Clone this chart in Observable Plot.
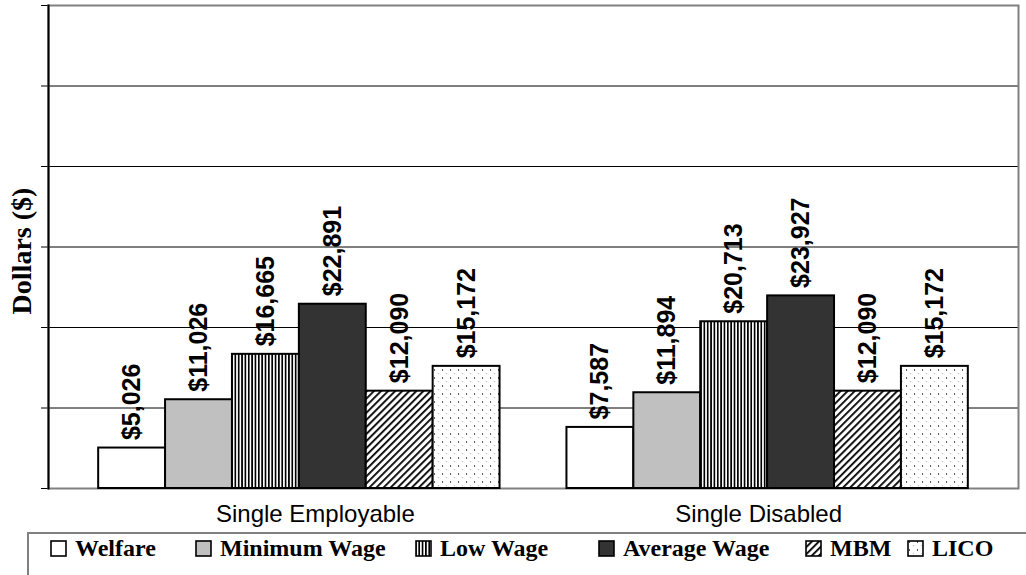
<!DOCTYPE html>
<html>
<head>
<meta charset="utf-8">
<script src="https://cdn.jsdelivr.net/npm/d3@7"></script>
<script src="https://cdn.jsdelivr.net/npm/@observablehq/plot@0.6"></script>
<style>
  html, body { margin: 0; padding: 0; background: #fff; }
  body { width: 1026px; height: 575px; overflow: hidden; position: relative; }
  #chart { position: absolute; left: 0; top: 0; }
  #legend { position: absolute; left: 27px; top: 532px; width: 1020px; height: 70px;
            border: 2px solid #808080; box-sizing: border-box; }
  .item { position: absolute; top: 2px; height: 24px; display: flex; align-items: center;
          font-family: "Liberation Serif", "Times New Roman", serif; font-weight: bold;
          font-size: 24px; line-height: 24px; color: #000; white-space: nowrap; }
  .item svg { margin-right: 8px; }
</style>
</head>
<body>
<svg width="0" height="0" style="position:absolute">
  <defs>
    <pattern id="pVert" patternUnits="userSpaceOnUse" width="3.35" height="10">
      <rect width="3.35" height="10" fill="#fff"/>
      <rect width="1.7" height="10" fill="#000"/>
    </pattern>
    <pattern id="pDiag" patternUnits="userSpaceOnUse" width="5" height="10" patternTransform="rotate(45)">
      <rect width="5" height="10" fill="#fff"/>
      <rect width="1.8" height="10" fill="#000"/>
    </pattern>
    <pattern id="pDots" patternUnits="userSpaceOnUse" width="8" height="8">
      <rect width="8" height="8" fill="#fff"/>
      <rect x="2" y="1" width="1" height="2" fill="#555"/>
      <rect x="6" y="5" width="1" height="1" fill="#bbb"/>
    </pattern>
  </defs>
</svg>
<div id="chart"></div>
<div id="legend"></div>
<script>
// ---- data ----
const groups = ["Single Employable", "Single Disabled"];
const series = ["Welfare", "Minimum Wage", "Low Wage", "Average Wage", "MBM", "LICO"];
const employableValues = [5026, 11026, 16665, 22891, 12090, 15172];
const disabledValues = [7587, 11894, 20713, 23927, 12090, 15172];
const yTicks = [0, 10000, 20000, 30000, 40000, 50000, 60000];
const yLabel = "Dollars ($)";

// ---- styles ----
const seriesFills = ["#ffffff", "#c0c0c0", "url(#pVert)", "#333333", "url(#pDiag)", "url(#pDots)"];

// slot layout: each group takes series.length slots plus one empty slot between groups
const slotsPerGroup = series.length + 1;
const data = [];
groups.forEach((g, gi) => {
  const vals = gi === 0 ? employableValues : disabledValues;
  series.forEach((s, si) => data.push({group: g, series: s, value: vals[si], slot: gi * slotsPerGroup + si}));
});
const groupRows = groups.map((g, gi) => ({group: g, center: gi * slotsPerGroup + series.length / 2}));
const nSlots = groups.length * slotsPerGroup - 1;

const fmt = d3.format("$,");
const sans = "Liberation Sans, Arial, sans-serif";

const chart = Plot.plot({
  width: 1026,
  height: 533,
  marginLeft: 48,
  marginRight: 8,
  marginTop: 5,
  marginBottom: 45,
  style: {background: "transparent", overflow: "visible"},
  x: {domain: [-0.75, nSlots + 0.75], axis: null},
  y: {domain: [0, 60000], axis: null},
  color: {type: "ordinal", domain: series, range: seriesFills},
  marks: [
    Plot.ruleY(yTicks, {stroke: "#000", strokeWidth: 1, insetLeft: -7}),
    Plot.frame({stroke: "#808080", strokeWidth: 2}),
    Plot.rectY(data, {x1: "slot", x2: d => d.slot + 1, y: "value", fill: "series", stroke: "#000", strokeWidth: 2}),
    Plot.text(data, {x: d => d.slot + 0.5, y: "value", text: d => fmt(d.value), rotate: -90,
      textAnchor: "start", dy: -8, fontSize: 25, fontWeight: "bold", fontFamily: sans, fill: "#000"}),
    Plot.frame({anchor: "left", stroke: "#000", strokeWidth: 2}),
    Plot.text([yLabel], {frameAnchor: "left", rotate: -90, textAnchor: "middle", dx: -26, dy: 4,
      fontSize: 28, fontWeight: "bold", fontFamily: "Liberation Serif, Times New Roman, serif", fill: "#000"}),
    Plot.text(groupRows, {x: "center", frameAnchor: "bottom", text: "group", lineAnchor: "top",
      dy: 16, dx: 16, fontSize: 24, fontFamily: sans, fill: "#000", filter: (d, i) => i === 0}),
    Plot.text(groupRows, {x: "center", frameAnchor: "bottom", text: "group", lineAnchor: "top",
      dy: 16, dx: -9, fontSize: 24, fontFamily: sans, fill: "#000", filter: (d, i) => i === 1})
  ]
});
document.getElementById("chart").appendChild(chart);

// ---- legend ----
const legendLefts = [21, 166, 386, 569, 776, 878];
const legend = document.getElementById("legend");
series.forEach((s, i) => {
  const item = document.createElement("div");
  item.className = "item";
  item.style.left = legendLefts[i] + "px";
  item.innerHTML = `<svg width="17" height="17"><rect x="1" y="1" width="15" height="15" fill="${seriesFills[i]}" stroke="#000" stroke-width="1.6"/></svg><span>${s}</span>`;
  legend.appendChild(item);
});
</script>
</body>
</html>
